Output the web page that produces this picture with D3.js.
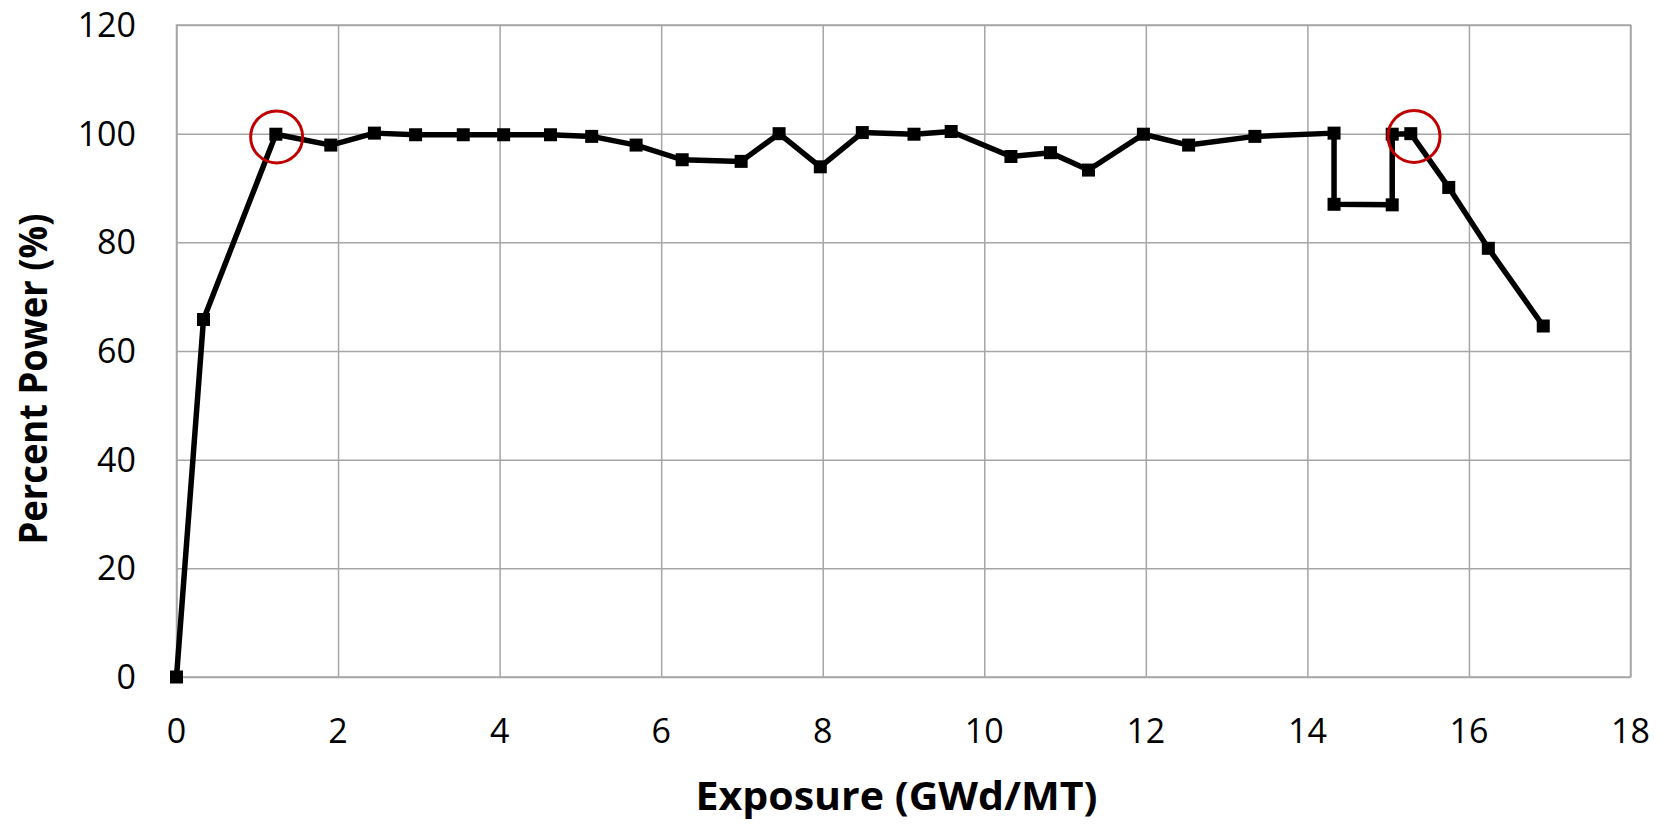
<!DOCTYPE html>
<html>
<head>
<meta charset="utf-8">
<script src="https://cdn.jsdelivr.net/npm/d3@7"></script>
<style>
  body { margin: 0; background: #fff; }
  svg { display: block; }
</style>
</head>
<body>
<div id="plot_area"></div>
<script>
// Chart data
const exposure = [0, 0.334, 1.23, 1.91, 2.45, 2.96, 3.55, 4.05, 4.63, 5.14, 5.69, 6.26, 6.99, 7.46, 7.97,
                  8.49, 9.13, 9.59, 10.33, 10.82, 11.29, 11.97, 12.53, 13.35, 14.33, 14.33, 15.05, 15.05,
                  15.28, 15.75, 16.24, 16.92];
const power = [0, 65.8, 99.9, 97.9, 100.1, 99.8, 99.8, 99.8, 99.8, 99.5, 97.9, 95.2, 94.9, 100, 93.9,
               100.2, 99.9, 100.4, 95.8, 96.5, 93.3, 99.9, 97.9, 99.5, 100.1, 87.0, 86.9, 99.9,
               100, 90.1, 78.9, 64.6];
const xTicks = [0, 2, 4, 6, 8, 10, 12, 14, 16, 18];
const yTicks = [0, 20, 40, 60, 80, 100, 120];
// Red circle annotations
const circleX = [1.24, 15.32];
const circleY = [99.4, 99.5];

const w = 1671;
const h = 824;
const padLeft = 176.5, padRight = 1630.5, padTop = 25, padBottom = 677;
const font = "'Open Sans', 'Noto Sans', sans-serif";

const data = exposure.map((x, i) => [x, power[i]]);

const xScale = d3.scaleLinear().domain([0, 18]).range([padLeft, padRight]);
const yScale = d3.scaleLinear().domain([0, 120]).range([padBottom, padTop]);

const svg = d3.select('#plot_area')
    .append('svg')
    .attr('width', w)
    .attr('height', h);

// Gridlines
svg.append('g')
   .attr('transform', 'translate(0,' + padBottom + ')')
   .call(d3.axisBottom(xScale).tickValues(xTicks).tickSize(-(padBottom - padTop)).tickFormat(''))
   .call(g => g.select('.domain').remove())
   .selectAll('line')
   .attr('stroke', '#a6a6a6')
   .attr('stroke-width', 1.5);

svg.append('g')
   .attr('transform', 'translate(' + padLeft + ',0)')
   .call(d3.axisLeft(yScale).tickValues(yTicks).tickSize(-(padRight - padLeft)).tickFormat(''))
   .call(g => g.select('.domain').remove())
   .selectAll('line')
   .attr('stroke', '#a6a6a6')
   .attr('stroke-width', 1.5);

// Plot border
svg.append('rect')
   .attr('x', padLeft)
   .attr('y', padTop)
   .attr('width', padRight - padLeft)
   .attr('height', padBottom - padTop)
   .attr('fill', 'none')
   .attr('stroke', '#a6a6a6')
   .attr('stroke-width', 1.5);

// Tick labels
svg.append('g')
   .selectAll('text')
   .data(xTicks)
   .enter()
   .append('text')
   .attr('x', (d) => xScale(d))
   .attr('y', padBottom + 66)
   .attr('text-anchor', 'middle')
   .style('font-family', font)
   .style('font-size', '34px')
   .text((d) => d);

svg.append('g')
   .selectAll('text')
   .data(yTicks)
   .enter()
   .append('text')
   .attr('x', 136)
   .attr('y', (d) => yScale(d) + 12)
   .attr('text-anchor', 'end')
   .style('font-family', font)
   .style('font-size', '34px')
   .text((d) => d);

// Data line
svg.append('path')
   .datum(data)
   .attr('fill', 'none')
   .attr('stroke', 'black')
   .attr('stroke-width', 5.5)
   .attr('stroke-linejoin', 'round')
   .attr('d', d3.line()
                .x((d) => xScale(d[0]))
                .y((d) => yScale(d[1])));

// Square markers
svg.selectAll('.marker')
   .data(data)
   .enter()
   .append('rect')
   .attr('class', 'marker')
   .attr('x', (d) => xScale(d[0]) - 6.5)
   .attr('y', (d) => yScale(d[1]) - 6.5)
   .attr('width', 13)
   .attr('height', 13)
   .attr('fill', 'black');

// Red circles
svg.selectAll('.ring')
   .data(circleX)
   .enter()
   .append('circle')
   .attr('class', 'ring')
   .attr('cx', (d) => xScale(d))
   .attr('cy', (d, i) => yScale(circleY[i]))
   .attr('r', 26)
   .attr('fill', 'none')
   .attr('stroke', '#c00000')
   .attr('stroke-width', 3);

// Axis titles
svg.append('text')
   .attr('x', (padLeft + padRight) / 2 - 7)
   .attr('y', 810)
   .attr('text-anchor', 'middle')
   .attr('textLength', 402)
   .attr('lengthAdjust', 'spacingAndGlyphs')
   .style('font-family', font)
   .style('font-weight', 'bold')
   .style('font-size', '39px')
   .text('Exposure (GWd/MT)');

svg.append('text')
   .attr('text-anchor', 'middle')
   .attr('transform', 'translate(47,' + 379 + ')rotate(-90)')
   .attr('textLength', 331)
   .attr('lengthAdjust', 'spacingAndGlyphs')
   .style('font-family', font)
   .style('font-weight', 'bold')
   .style('font-size', '39px')
   .text('Percent Power (%)');
</script>
</body>
</html>
